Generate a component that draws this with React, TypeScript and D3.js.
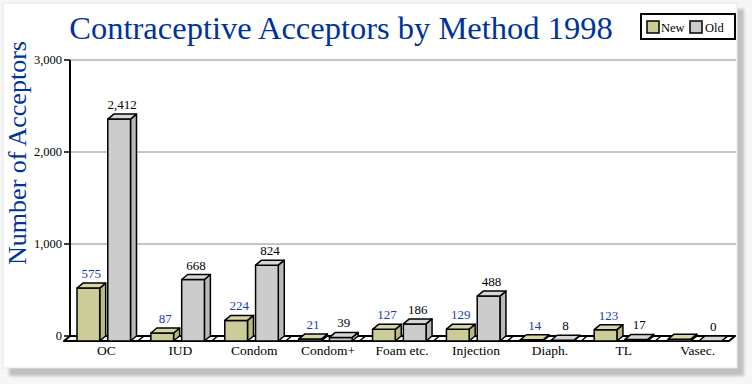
import React from "react";
import * as d3 from "d3";

const categories = ["OC", "IUD", "Condom", "Condom+", "Foam etc.", "Injection", "Diaph.", "TL", "Vasec."];
const seriesNames = ["New", "Old"];
const newValues = [575, 87, 224, 21, 127, 129, 14, 123, 20];
const oldValues = [2412, 668, 824, 39, 186, 488, 8, 17, 0];
const newLabels = ["575", "87", "224", "21", "127", "129", "14", "123", ""];
const oldLabels = ["2,412", "668", "824", "39", "186", "488", "8", "17", "0"];
const yTicks = [0, 1000, 2000, 3000];

const W = 752;
const H = 384;
const DX = 6;
const DY = -5;
const SERIF = "'Liberation Serif', 'Times New Roman', serif";
const BLUE_TITLE = "#003399";
const BLUE_LABEL = "#1a3cb8";
const fills = { New: { front: "#cccc99", side: "#b8b888", top: "#d6d6a6" }, Old: { front: "#cccccc", side: "#b9b9b9", top: "#d6d6d6" } };

export default function App() {
  const x0 = d3.scaleBand<string>().domain(categories).range([70, 735]).paddingInner(0).paddingOuter(0);
  const x1 = d3.scaleBand<string>().domain(seriesNames).range([7, 60.5]).paddingInner(8 / 30.5);
  const y = d3.scaleLinear().domain([0, 3000]).range([341, 65]);
  const fmt = d3.format(",");
  const bw = x1.bandwidth();

  const bars: JSX.Element[] = [];
  categories.forEach((c, i) => {
    seriesNames.forEach((s) => {
      const v = s === "New" ? newValues[i] : oldValues[i];
      const lbl = s === "New" ? newLabels[i] : oldLabels[i];
      const xl = (x0(c) as number) + (x1(s) as number);
      const xr = xl + bw;
      const yt = y(v);
      const yb = y(0);
      const f = (fills as any)[s];
      const front = `M${xl},${yb}L${xr},${yb}L${xr},${yt}L${xl},${yt}Z`;
      const side = `M${xr},${yb}L${xr + DX},${yb + DY}L${xr + DX},${yt + DY}L${xr},${yt}Z`;
      const top = `M${xl},${yt}L${xr},${yt}L${xr + DX},${yt + DY}L${xl + DX},${yt + DY}Z`;
      bars.push(
        <g key={c + s}>
          <path d={side} fill={f.side} stroke="#000" strokeWidth={1.5} strokeLinejoin="round" />
          <path d={front} fill={f.front} stroke="#000" strokeWidth={1.5} strokeLinejoin="round" />
          <path d={top} fill={f.top} stroke="#000" strokeWidth={1.5} strokeLinejoin="round" />
          {lbl !== "" && (
            <text x={(xl + xr + DX) / 2} y={yt + DY - 5} textAnchor="middle" fontFamily={SERIF} fontSize={13}
              fill={s === "New" ? BLUE_LABEL : "#000"}>{lbl}</text>
          )}
        </g>
      );
    });
  });

  const floorFrontY = y(0);
  const floorBackY = y(0) + DY;
  const xStart = x0.range()[0];
  const xEnd = x0.range()[1];
  const boundaries = d3.range(1, categories.length).map((i) => xStart + i * x0.step());

  return (
    <svg width={W} height={H} style={{ position: "absolute", left: 0, top: 0, display: "block" }}>
      <defs>
        <filter id="blur" x="-5%" y="-5%" width="110%" height="110%">
          <feGaussianBlur stdDeviation={1.5} />
        </filter>
      </defs>
      <rect x={0} y={0} width={W} height={H} fill="#f6f6f6" />
      <rect x={9} y={9} width={735} height={367} fill="#c0c0c0" filter="url(#blur)" />
      <rect x={3} y={3} width={734} height={365} fill="#ffffff" stroke="#e6e6e6" strokeWidth={1} />

      <text x={341} y={39} textAnchor="middle" fontFamily={SERIF} fontSize={32.5} fill={BLUE_TITLE}>
        Contraceptive Acceptors by Method 1998
      </text>
      <text transform={`translate(26,153) rotate(-90)`} textAnchor="middle" fontFamily={SERIF} fontSize={26} fill={BLUE_TITLE}>
        Number of Acceptors
      </text>

      {yTicks.map((t) => (
        <g key={t}>
          {t > 0 && <line x1={70} x2={736} y1={y(t) + DY} y2={y(t) + DY} stroke="#8c8c8c" strokeWidth={1} />}
          <line x1={64} x2={70} y1={y(t) + DY} y2={y(t) + DY} stroke="#000" strokeWidth={1.5} />
          <text x={62} y={y(t) + DY + 4} textAnchor="end" fontFamily={SERIF} fontSize={12.5} fill="#000">{fmt(t)}</text>
        </g>
      ))}

      <path d={`M${xStart - DX},${floorFrontY}L${xEnd - DX},${floorFrontY}L${xEnd},${floorBackY}L${xStart},${floorBackY}Z`}
        fill="#fff" stroke="#000" strokeWidth={2} strokeLinejoin="round" />
      {boundaries.map((b, i) => (
        <line key={i} x1={b - DX} y1={floorFrontY} x2={b} y2={floorBackY} stroke="#000" strokeWidth={1.5} />
      ))}
      <line x1={70} x2={70} y1={y(3000) + DY} y2={floorBackY} stroke="#000" strokeWidth={2} />

      {bars}

      {categories.map((c) => (
        <text key={c} x={(x0(c) as number) + 33.5 + DX / 2} y={355} textAnchor="middle" fontFamily={SERIF} fontSize={13.5} fill="#000">{c}</text>
      ))}

      <g>
        <rect x={641} y={14} width={94} height={25} fill="#fff" stroke="#000" strokeWidth={2} />
        <rect x={647} y={21} width={12} height={12} fill={fills.New.front} stroke="#000" strokeWidth={1.5} />
        <text x={661} y={32} fontFamily={SERIF} fontSize={12.5} fill="#000">{seriesNames[0]}</text>
        <rect x={690} y={21} width={12} height={12} fill={fills.Old.front} stroke="#000" strokeWidth={1.5} />
        <text x={705} y={32} fontFamily={SERIF} fontSize={12.5} fill="#000">{seriesNames[1]}</text>
      </g>
    </svg>
  );
}
